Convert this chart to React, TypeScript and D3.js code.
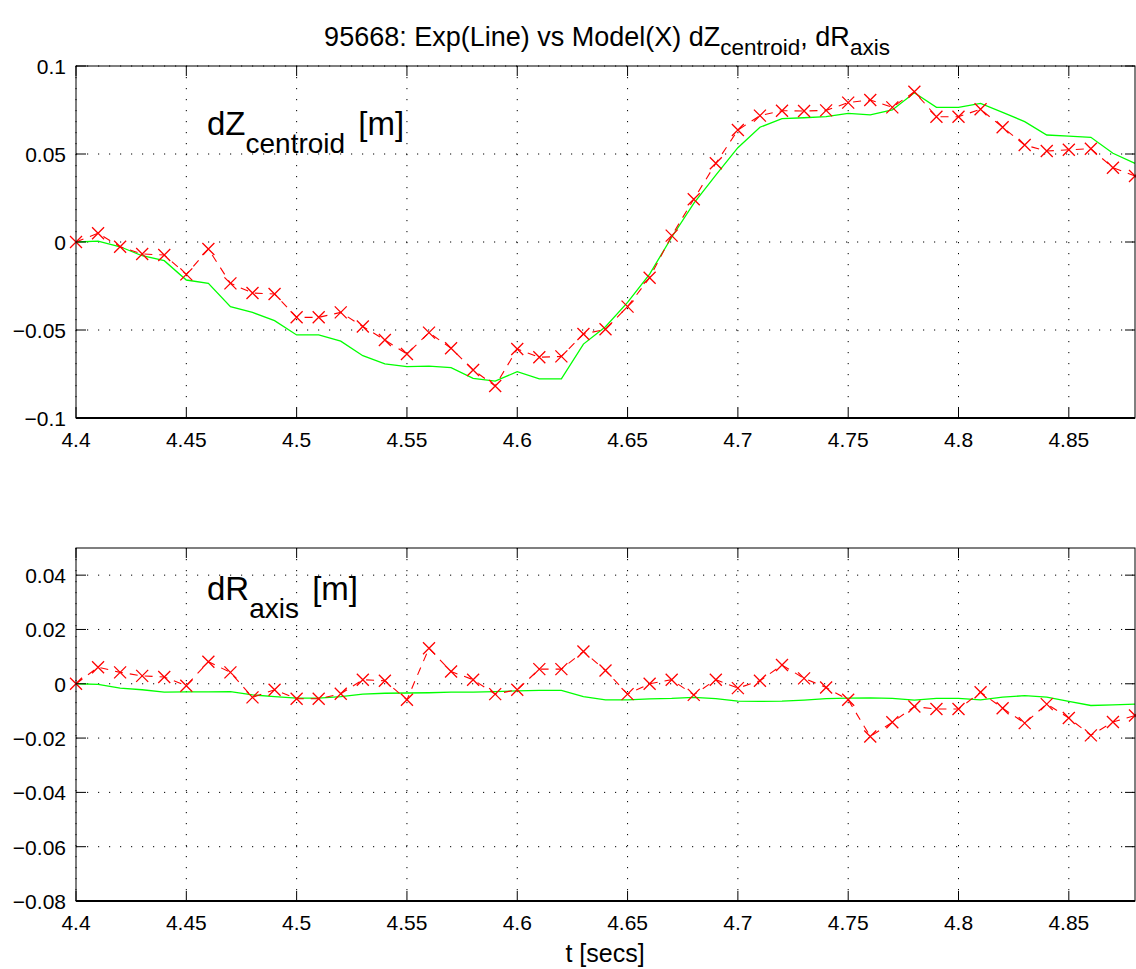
import React from "react";
import * as d3 from "d3";

const times = [
  4.40, 4.41, 4.42, 4.43, 4.44, 4.45, 4.46, 4.47, 4.48, 4.49,
  4.50, 4.51, 4.52, 4.53, 4.54, 4.55, 4.56, 4.57, 4.58, 4.59,
  4.60, 4.61, 4.62, 4.63, 4.64, 4.65, 4.66, 4.67, 4.68, 4.69,
  4.70, 4.71, 4.72, 4.73, 4.74, 4.75, 4.76, 4.77, 4.78, 4.79,
  4.80, 4.81, 4.82, 4.83, 4.84, 4.85, 4.86, 4.87, 4.88,
];

// dZ_centroid: model (red x, dashed)
const dzModel = [
  0, 0.005, -0.0027, -0.0068, -0.0074, -0.0184, -0.004, -0.0235, -0.029, -0.0295,
  -0.0428, -0.0428, -0.040, -0.048, -0.0557, -0.0636, -0.0515, -0.0604, -0.0727, -0.0818,
  -0.0608, -0.0655, -0.065, -0.0523, -0.0496, -0.0367, -0.0203, 0.0036, 0.0243, 0.0447,
  0.0636, 0.0718, 0.0746, 0.0744, 0.0748, 0.0792, 0.0807, 0.0765, 0.0854, 0.0712,
  0.0712, 0.0754, 0.0652, 0.0551, 0.0517, 0.0524, 0.053, 0.0422, 0.0375,
];

// dZ_centroid: experiment (green line)
const dzExp = [
  0, 0.0005, -0.0027, -0.0078, -0.0106, -0.0216, -0.0235, -0.0367, -0.040, -0.0447,
  -0.0528, -0.0528, -0.0563, -0.0646, -0.0693, -0.0708, -0.0705, -0.0714, -0.0775, -0.079,
  -0.0737, -0.0778, -0.0778, -0.058, -0.0481, -0.0343, -0.0182, 0.0027, 0.022, 0.038,
  0.0536, 0.0652, 0.0701, 0.0706, 0.0712, 0.0731, 0.0722, 0.075, 0.0848, 0.0765,
  0.0765, 0.0788, 0.0737, 0.0684, 0.0608, 0.0602, 0.0595, 0.0504, 0.0447,
];

// dR_axis: model (red x, dashed)
const drModel = [
  0, 0.0061, 0.0042, 0.0029, 0.0025, -0.0007, 0.0081, 0.0042, -0.005, -0.0022,
  -0.0055, -0.0055, -0.0037, 0.0015, 0.0011, -0.0059, 0.0131, 0.0045, 0.0015, -0.0038,
  -0.0022, 0.0054, 0.0054, 0.0119, 0.0049, -0.0038, 0, 0.0015, -0.0041, 0.0015,
  -0.0016, 0.0011, 0.0069, 0.002, -0.0014, -0.0059, -0.0194, -0.0142, -0.0084, -0.0093,
  -0.0093, -0.0031, -0.009, -0.0145, -0.0075, -0.0126, -0.019, -0.0141, -0.0117,
];

// dR_axis: experiment (green line)
const drExp = [
  0, -0.0002, -0.0016, -0.0022, -0.0031, -0.003, -0.003, -0.0029, -0.0041, -0.0047,
  -0.0053, -0.0053, -0.0047, -0.0038, -0.0035, -0.0034, -0.0033, -0.0031, -0.0031, -0.0029,
  -0.0026, -0.0024, -0.0024, -0.0047, -0.0059, -0.0059, -0.0056, -0.0054, -0.005, -0.0055,
  -0.0064, -0.0065, -0.0064, -0.006, -0.0055, -0.0053, -0.0052, -0.0054, -0.006, -0.0054,
  -0.0054, -0.0059, -0.0049, -0.0044, -0.0049, -0.0065, -0.008, -0.0078, -0.0075,
];

const xTicks = [4.4, 4.45, 4.5, 4.55, 4.6, 4.65, 4.7, 4.75, 4.8, 4.85];
const xTickLabels = ["4.4", "4.45", "4.5", "4.55", "4.6", "4.65", "4.7", "4.75", "4.8", "4.85"];
const topYTicks = [-0.1, -0.05, 0, 0.05, 0.1];
const topYTickLabels = ["\u22120.1", "\u22120.05", "0", "0.05", "0.1"];
const botYTicks = [-0.08, -0.06, -0.04, -0.02, 0, 0.02, 0.04];
const botYTickLabels = ["\u22120.08", "\u22120.06", "\u22120.04", "\u22120.02", "0", "0.02", "0.04"];

const FONT = "'Liberation Sans', Arial, Helvetica, sans-serif";
const W = 1136;
const H = 969;
const LEFT = 76;
const RIGHT = 1135;

type PanelProps = {
  top: number;
  bottom: number;
  yDomain: [number, number];
  yTicks: number[];
  yTickLabels: string[];
  model: number[];
  exp: number[];
  label: string;
  labelSub: string;
  labelX: number;
  labelY: number;
};

function Panel(p: PanelProps) {
  const x = d3.scaleLinear().domain([4.4, 4.88]).range([LEFT, RIGHT]);
  const y = d3.scaleLinear().domain(p.yDomain).range([p.bottom, p.top]);
  const line = d3
    .line<number>()
    .x((_, i) => x(times[i]))
    .y((d) => y(d));
  const tickLen = 10;
  const m = 6;
  return (
    <g>
      {/* grid */}
      {xTicks.map((t, i) => (
        <line
          key={"gx" + i}
          x1={x(t)}
          x2={x(t)}
          y1={p.top}
          y2={p.bottom}
          stroke="#000"
          strokeWidth={1}
          strokeDasharray="1.2,9.8"
        />
      ))}
      {p.yTicks.map((t, i) => (
        <line
          key={"gy" + i}
          x1={LEFT}
          x2={RIGHT}
          y1={y(t)}
          y2={y(t)}
          stroke="#000"
          strokeWidth={1}
          strokeDasharray="1.2,9.8"
        />
      ))}
      {/* data */}
      <path d={line(p.exp) || ""} fill="none" stroke="#00ff00" strokeWidth={1.3} />
      <path
        d={line(p.model) || ""}
        fill="none"
        stroke="#ff0000"
        strokeWidth={1.1}
        strokeDasharray="8,7"
      />
      {p.model.map((v, i) => (
        <path
          key={"m" + i}
          d={`M${x(times[i]) - m},${y(v) - m}L${x(times[i]) + m},${y(v) + m}M${x(times[i]) - m},${y(v) + m}L${x(times[i]) + m},${y(v) - m}`}
          stroke="#ff0000"
          strokeWidth={1.3}
          fill="none"
        />
      ))}
      {/* ticks */}
      {xTicks.map((t, i) => (
        <g key={"tx" + i}>
          <line x1={x(t)} x2={x(t)} y1={p.bottom} y2={p.bottom - tickLen} stroke="#000" />
          <line x1={x(t)} x2={x(t)} y1={p.top} y2={p.top + tickLen} stroke="#000" />
          <text
            x={x(t)}
            y={p.bottom + 29}
            textAnchor="middle"
            fontFamily={FONT}
            fontSize={21}
          >
            {xTickLabels[i]}
          </text>
        </g>
      ))}
      {p.yTicks.map((t, i) => (
        <g key={"ty" + i}>
          <line x1={LEFT} x2={LEFT + tickLen} y1={y(t)} y2={y(t)} stroke="#000" />
          <line x1={RIGHT} x2={RIGHT - tickLen} y1={y(t)} y2={y(t)} stroke="#000" />
          <text
            x={LEFT - 10}
            y={y(t) + 8}
            textAnchor="end"
            fontFamily={FONT}
            fontSize={21}
          >
            {p.yTickLabels[i]}
          </text>
        </g>
      ))}
      {/* frame */}
      <rect
        x={LEFT}
        y={p.top}
        width={RIGHT - LEFT}
        height={p.bottom - p.top}
        fill="none"
        stroke="#000"
        strokeWidth={1}
      />
      <line x1={LEFT} x2={RIGHT} y1={p.bottom} y2={p.bottom} stroke="#000" strokeWidth={2} />
      {/* in-plot label */}
      <text x={p.labelX} y={p.labelY} fontFamily={FONT} fontSize={33}>
        {p.label}
        <tspan dy={18} fontSize={28}>
          {p.labelSub}
        </tspan>
        <tspan dy={-18} dx={4}>{"\u00a0[m]"}</tspan>
      </text>
    </g>
  );
}

export default function App() {
  return (
    <svg
      width={W}
      height={H}
      style={{ position: "absolute", left: 0, top: 0, background: "#fff" }}
    >
      <rect x={0} y={0} width={W} height={H} fill="#fff" />
      <text x={607} y={46} textAnchor="middle" fontFamily={FONT} fontSize={27}>
        95668: Exp(Line) vs Model(X) dZ
        <tspan dy={9} fontSize={22.5}>
          centroid
        </tspan>
        <tspan dy={-9}>, dR</tspan>
        <tspan dy={9} fontSize={22.5}>
          axis
        </tspan>
      </text>
      <Panel
        top={66}
        bottom={418}
        yDomain={[-0.1, 0.1]}
        yTicks={topYTicks}
        yTickLabels={topYTickLabels}
        model={dzModel}
        exp={dzExp}
        label="dZ"
        labelSub="centroid"
        labelX={207}
        labelY={135}
      />
      <Panel
        top={548}
        bottom={901}
        yDomain={[-0.08, 0.05]}
        yTicks={botYTicks}
        yTickLabels={botYTickLabels}
        model={drModel}
        exp={drExp}
        label="dR"
        labelSub="axis"
        labelX={207}
        labelY={600}
      />
      <text x={605} y={962} textAnchor="middle" fontFamily={FONT} fontSize={25}>
        t [secs]
      </text>
    </svg>
  );
}
